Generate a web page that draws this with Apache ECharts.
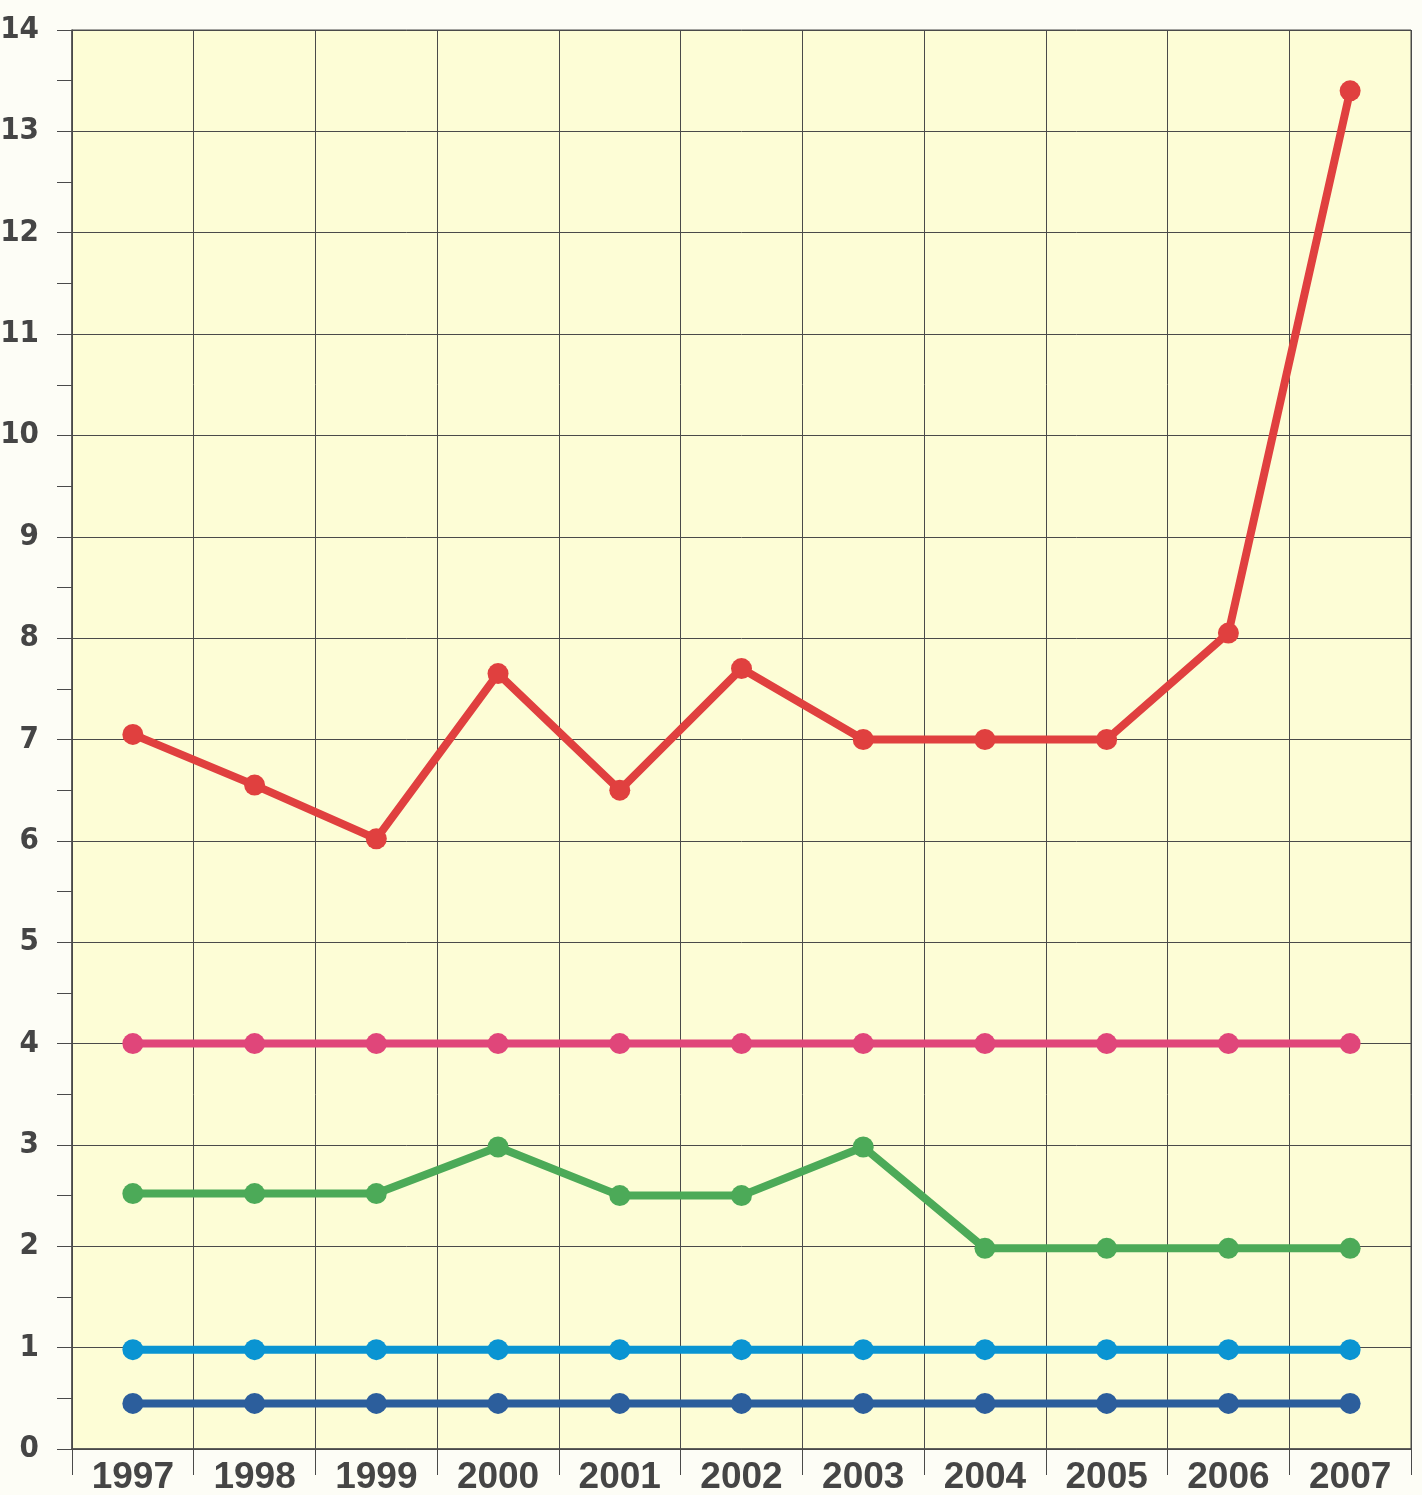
<!DOCTYPE html>
<html lang="en">
<head>
    <meta charset="UTF-8">
    <script src="https://cdn.jsdelivr.net/npm/echarts@6/dist/echarts.min.js"></script>
    <title>Chart</title>
    <style>
        body { margin: 0; background: #fdfdf6; }
    </style>
</head>
<body>
<div id="main" style="width: 1422px;height:1495px;"></div>
<script type="text/javascript">
    // data
    var years = ['1997', '1998', '1999', '2000', '2001', '2002', '2003', '2004', '2005', '2006', '2007'];
    var redSeries = [7.05, 6.55, 6.02, 7.65, 6.5, 7.7, 7.0, 7.0, 7.0, 8.05, 13.4];
    var pinkSeries = [4, 4, 4, 4, 4, 4, 4, 4, 4, 4, 4];
    var greenSeries = [2.52, 2.52, 2.52, 2.98, 2.5, 2.5, 2.98, 1.98, 1.98, 1.98, 1.98];
    var cyanSeries = [0.98, 0.98, 0.98, 0.98, 0.98, 0.98, 0.98, 0.98, 0.98, 0.98, 0.98];
    var navySeries = [0.45, 0.45, 0.45, 0.45, 0.45, 0.45, 0.45, 0.45, 0.45, 0.45, 0.45];

    var myChart = echarts.init(document.getElementById('main'));

    function lineSeries(data, color) {
        return {
            type: 'line',
            data: data,
            symbol: 'circle',
            symbolSize: 21,
            lineStyle: { color: color, width: 8 },
            itemStyle: { color: color },
            z: 3
        };
    }

    var option = {
        backgroundColor: '#fdfdf6',
        animation: false,
        grid: {
            left: 72,
            right: 11,
            top: 30,
            bottom: 46,
            outerBoundsMode: 'none',
            containLabel: false,
            show: true,
            backgroundColor: '#fdfdd6',
            borderColor: '#4a4a4a',
            borderWidth: 1
        },
        xAxis: {
            type: 'category',
            data: years,
            boundaryGap: true,
            axisLine: { lineStyle: { color: '#4a4a4a', width: 1.5 } },
            axisTick: { show: true, length: 26, lineStyle: { color: '#4a4a4a' } },
            axisLabel: {
                margin: 10,
                color: '#454545',
                fontFamily: "'Liberation Sans', Arial, sans-serif",
                fontWeight: 'bold',
                fontSize: 37
            },
            splitLine: { show: true, lineStyle: { color: '#4a4a4a', width: 1 } }
        },
        yAxis: {
            type: 'value',
            min: 0,
            max: 14,
            interval: 1,
            axisLine: { show: true, lineStyle: { color: '#4a4a4a', width: 1.5 } },
            axisTick: { show: true, length: 15, lineStyle: { color: '#4a4a4a' } },
            minorTick: { show: true, splitNumber: 2, length: 15, lineStyle: { color: '#4a4a4a' } },
            axisLabel: {
                margin: 33,
                color: '#454545',
                fontFamily: "'DejaVu Sans Condensed', 'Liberation Sans Narrow', 'Liberation Sans', sans-serif",
                fontWeight: 'bold',
                fontSize: 31
            },
            splitLine: { show: true, lineStyle: { color: '#4a4a4a', width: 1 } }
        },
        series: [
            lineSeries(navySeries, '#2c5e9c'),
            lineSeries(cyanSeries, '#0a94d2'),
            lineSeries(greenSeries, '#4caa58'),
            lineSeries(pinkSeries, '#e0467a'),
            lineSeries(redSeries, '#e0403f')
        ]
    };

    myChart.setOption(option);
</script>
</body>
</html>
